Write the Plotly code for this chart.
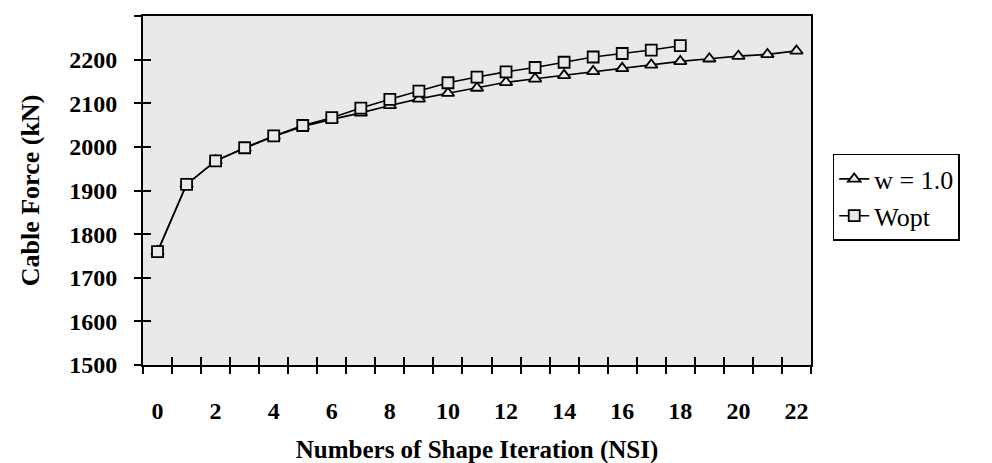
import plotly.graph_objects as go

# ---- data ----
nsi_w1 = list(range(0, 23))
force_w1 = [1760, 1914, 1968, 1997, 2024, 2047, 2063, 2078, 2095, 2110, 2123, 2135,
            2148, 2156, 2164, 2173, 2180, 2188, 2196, 2202, 2208, 2212, 2220]
nsi_wopt = list(range(0, 19))
force_wopt = [1760, 1914, 1968, 1998, 2025, 2049, 2067, 2089, 2109, 2128, 2147, 2160,
              2172, 2182, 2194, 2206, 2214, 2222, 2232]

series_names = ["w = 1.0", "Wopt"]
x_label_vals = list(range(0, 23, 2))
x_label_text = [str(v) for v in x_label_vals]
x_bounds = [v - 0.5 for v in range(0, 24)]
y_ticks = list(range(1500, 2301, 100))

FONT = "Liberation Serif"
BG = "#e9e9e9"

fig = go.Figure()
fig.add_trace(go.Scatter(
    x=nsi_w1, y=force_w1, name=series_names[0], mode="lines+markers",
    line=dict(color="black", width=1.6),
    marker=dict(symbol="triangle-up", size=11, color=BG, line=dict(color="black", width=1.8)),
))
fig.add_trace(go.Scatter(
    x=nsi_wopt, y=force_wopt, name=series_names[1], mode="lines+markers",
    line=dict(color="black", width=1.6),
    marker=dict(symbol="square", size=11, color=BG, line=dict(color="black", width=1.8)),
))
# helper trace carrying the overlay axes (inside half of the cross tick marks)
fig.add_trace(go.Scatter(x=nsi_w1[:1], y=force_w1[:1], xaxis="x2", yaxis="y2",
                         mode="markers", marker=dict(opacity=0, size=1),
                         showlegend=False, hoverinfo="skip"))

fig.update_layout(
    width=992, height=463,
    margin=dict(l=135, r=189, t=6, b=106),
    paper_bgcolor="white", plot_bgcolor=BG,
    font=dict(family=FONT, color="black", size=24),
    showlegend=True,
    legend=dict(x=1.0325, xanchor="left", y=0.48, yanchor="middle",
                bordercolor="black", borderwidth=1.5, bgcolor="white",
                font=dict(family=FONT, size=26), tracegroupgap=0),
    xaxis=dict(
        range=[-0.5, 22.5], tickmode="array", tickvals=x_label_vals, ticktext=x_label_text,
        ticks="outside", ticklen=23, tickcolor="rgba(0,0,0,0)",
        minor=dict(tickmode="array", tickvals=x_bounds, ticks="outside", ticklen=7,
                   tickwidth=1.8, tickcolor="black", showgrid=False),
        showline=True, linecolor="black", linewidth=2, mirror=True, showgrid=False,
        zeroline=False,
        tickfont=dict(family=FONT, size=24, color="black", weight="bold"),
        title=dict(text="<b>Numbers of Shape Iteration (NSI)</b>",
                   font=dict(family=FONT, size=25), standoff=18),
    ),
    xaxis2=dict(overlaying="x", anchor="y", side="bottom", range=[-0.5, 22.5],
                tickmode="array", tickvals=x_bounds, ticks="inside", ticklen=8,
                tickwidth=1.8, tickcolor="black", showticklabels=False,
                showline=False, showgrid=False, zeroline=False),
    yaxis=dict(
        range=[1500, 2300], tickmode="array", tickvals=y_ticks,
        ticks="outside", ticklen=7, tickwidth=1.8, tickcolor="black",
        ticklabelstandoff=12,
        showline=True, linecolor="black", linewidth=2, mirror=True, showgrid=False,
        zeroline=False,
        tickfont=dict(family=FONT, size=24, color="black", weight="bold"),
        title=dict(text="<b>Cable Force (kN)</b>", font=dict(family=FONT, size=26),
                   standoff=22),
    ),
    yaxis2=dict(overlaying="y", anchor="x", side="left", range=[1500, 2300],
                tickmode="array", tickvals=y_ticks, ticks="inside", ticklen=8,
                tickwidth=1.8, tickcolor="black", showticklabels=False,
                showline=False, showgrid=False, zeroline=False),
)

fig.write_html("out.html")
